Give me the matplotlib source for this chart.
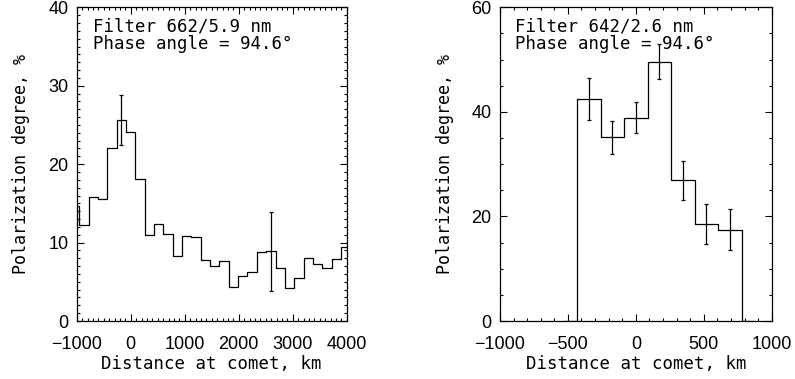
import numpy as np
import matplotlib
matplotlib.use("Agg")
import matplotlib.pyplot as plt
from matplotlib.ticker import MultipleLocator

# Panneau gauche : filtre 662/5.9 nm (centres des bins en km)
left_centers_km = [-1038, -865, -692, -519, -346, -173, 0, 173, 346, 519,
                   692, 865, 1038, 1211, 1384, 1557, 1730, 1903, 2076, 2249,
                   2422, 2595, 2768, 2941, 3114, 3287, 3460, 3633, 3806, 3979]
left_pol = [14.7, 12.2, 15.8, 15.6, 22.0, 25.6, 24.1, 18.1, 11.0, 12.4,
            11.1, 8.3, 10.9, 10.7, 7.8, 7.0, 7.6, 4.4, 5.8, 6.3,
            8.75, 8.9, 6.8, 4.2, 5.5, 8.0, 7.3, 6.7, 7.9, 9.4]
left_err_x = [-173, 2595]
left_err_y = [25.6, 8.9]
left_err = [3.2, 5.05]

# Panneau droit : filtre 642/2.6 nm
right_centers_km = [-519, -346, -173, 0, 173, 346, 519, 692, 865]
right_pol = [0, 42.4, 35.1, 38.9, 49.6, 26.9, 18.6, 17.5, 0]
right_err_x = [-346, -173, 0, 173, 346, 519, 692]
right_err_y = [42.4, 35.1, 38.9, 49.6, 26.9, 18.6, 17.5]
right_err = [4.0, 3.2, 3.0, 3.4, 3.7, 3.8, 4.0]

FS = 12.5
TEXT_FONT = ['DejaVu Sans Mono']
TICK_FONT = ['Liberation Sans Narrow', 'Liberation Sans', 'DejaVu Sans']


def setup_axis(ax, xlim, ylim, xmaj, xmin, ymaj, ymin):
    """Style IDL : cadre complet, graduations vers l'intérieur."""
    ax.set_xlim(*xlim)
    ax.set_ylim(*ylim)
    ax.xaxis.set_major_locator(MultipleLocator(xmaj))
    ax.xaxis.set_minor_locator(MultipleLocator(xmin))
    ax.yaxis.set_major_locator(MultipleLocator(ymaj))
    ax.yaxis.set_minor_locator(MultipleLocator(ymin))
    ax.tick_params(which='both', direction='in', top=True, right=True,
                   width=0.8)
    ax.tick_params(which='major', length=4.8)
    ax.tick_params(which='minor', length=2.4)
    ax.tick_params(axis='x', pad=11)
    ax.tick_params(axis='y', pad=6)
    for lab in ax.get_xticklabels() + ax.get_yticklabels():
        lab.set_family(TICK_FONT)
        lab.set_fontsize(13)
    for s in ax.spines.values():
        s.set_linewidth(0.9)
    ax.set_xlabel('Distance at comet, km', fontsize=FS, labelpad=1,
                  family=TEXT_FONT)
    ax.set_ylabel('Polarization degree, %', fontsize=12, family=TEXT_FONT)


fig = plt.figure(figsize=(7.95, 3.79), dpi=100)
ax1 = fig.add_axes([0.0965, 0.153, 0.3396, 0.8277])
ax2 = fig.add_axes([0.6289, 0.153, 0.3418, 0.8277])

# Gauche
ax1.step(left_centers_km, left_pol, where='mid', color='black', lw=0.9)
ax1.errorbar(left_err_x, left_err_y, yerr=left_err, fmt='none',
             ecolor='black', elinewidth=0.9, capsize=1.2, capthick=0.9)
setup_axis(ax1, (-1000, 4000), (0, 40), 1000, 100, 10, 1)
ax1.yaxis.set_label_coords(-0.174, 0.5)
ax1.text(0.06, 0.968, 'Filter 662/5.9 nm\nPhase angle = 94.6°',
         transform=ax1.transAxes, ha='left', va='top', fontsize=FS,
         linespacing=1.0, family=TEXT_FONT)

# Droite
ax2.step(right_centers_km, right_pol, where='mid', color='black', lw=0.9)
ax2.errorbar(right_err_x, right_err_y, yerr=right_err, fmt='none',
             ecolor='black', elinewidth=0.9, capsize=1.2, capthick=0.9)
setup_axis(ax2, (-1000, 1000), (0, 60), 500, 100, 20, 5)
ax2.yaxis.set_label_coords(-0.168, 0.5)
ax2.text(0.055, 0.968, 'Filter 642/2.6 nm\nPhase angle = 94.6°',
         transform=ax2.transAxes, ha='left', va='top', fontsize=FS,
         linespacing=1.0, family=TEXT_FONT)

fig.savefig('out.png', dpi=100)
